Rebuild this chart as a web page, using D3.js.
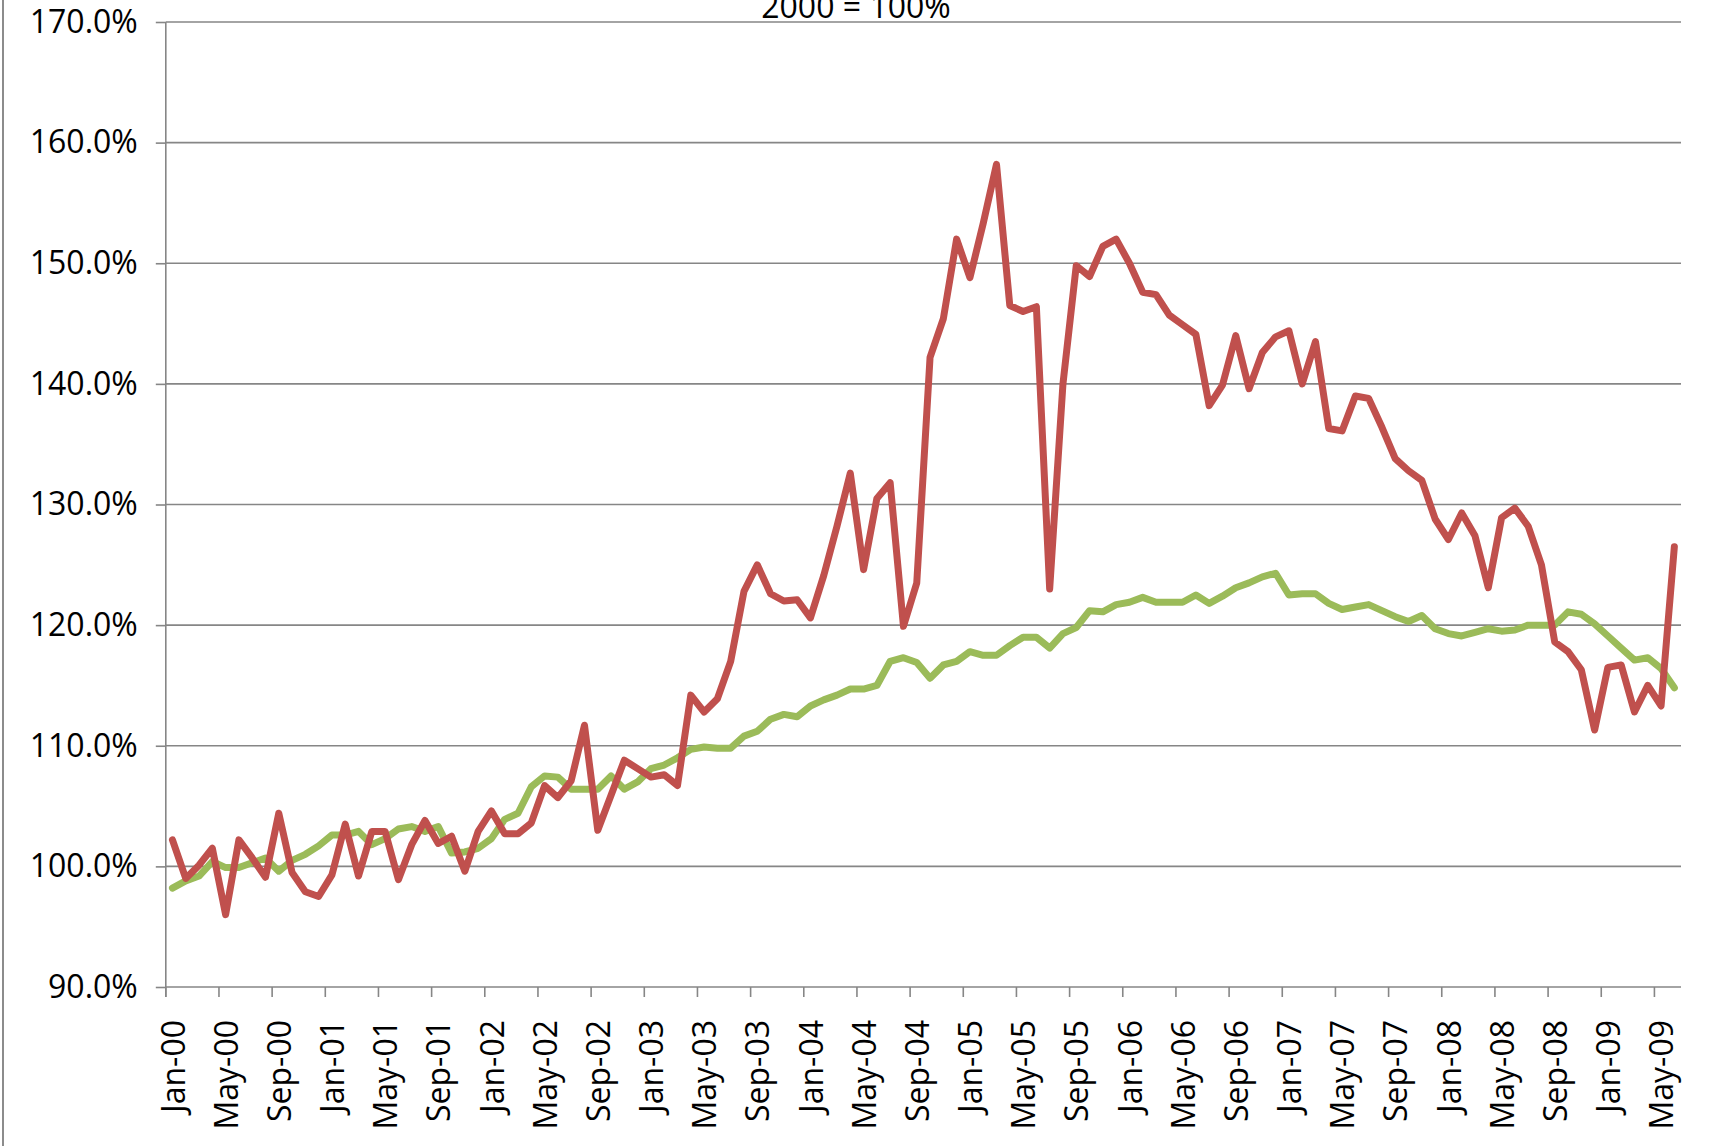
<!DOCTYPE html>
<html><head><meta charset="utf-8">
<script src="https://cdn.jsdelivr.net/npm/d3@7"></script>
<style>
html,body{margin:0;padding:0;background:#fff;}
svg{display:block;font-family:"Open Sans",sans-serif;}
</style>
</head><body>
<svg id="chart" width="1710" height="1146"></svg>
<script>
const titleText = "2000 = 100%";
const monthNames = ["Jan","Feb","Mar","Apr","May","Jun","Jul","Aug","Sep","Oct","Nov","Dec"];
const yearLabels = ["00","01","02","03","04","05","06","07","08","09"];
const yTicks = [90,100,110,120,130,140,150,160,170];

const redSeries = [
102.2,99.0,100.1,101.5,96.0,102.2,100.7,99.1,104.4,99.5,97.9,97.5,
99.3,103.5,99.2,102.9,102.9,98.9,101.8,103.8,101.9,102.5,99.6,102.9,
104.6,102.7,102.7,103.6,106.7,105.7,107.1,111.7,103.0,105.9,108.8,108.1,
107.4,107.6,106.7,114.2,112.8,113.9,117.0,122.8,125.0,122.6,122.0,122.1,
120.6,124.1,128.2,132.6,124.6,130.5,131.8,119.9,123.5,142.2,145.4,152.0,
148.8,153.3,158.2,146.5,146.0,146.4,123.0,140.0,149.8,148.9,151.4,152.0,
150.0,147.6,147.4,145.7,144.9,144.1,138.2,139.9,144.0,139.6,142.6,143.9,
144.4,140.0,143.5,136.3,136.1,139.0,138.8,136.4,133.8,132.8,132.0,128.8,
127.1,129.3,127.4,123.1,128.9,129.7,128.2,125.0,118.6,117.8,116.3,111.3,
116.5,116.7,112.8,115.0,113.3,126.5
];

const greenSeries = [
98.2,98.8,99.2,100.4,99.9,99.9,100.3,100.7,99.6,100.5,101.0,101.7,
102.6,102.6,102.9,101.8,102.3,103.1,103.3,102.9,103.3,101.1,101.2,101.5,
102.3,103.9,104.4,106.6,107.5,107.4,106.4,106.4,106.4,107.5,106.4,107.0,
108.1,108.4,109.0,109.7,109.9,109.8,109.8,110.8,111.2,112.2,112.6,112.4,
113.3,113.8,114.2,114.7,114.7,115.0,117.0,117.3,116.9,115.6,116.7,117.0,
117.8,117.5,117.5,118.3,119.0,119.0,118.1,119.3,119.8,121.2,121.1,121.7,
121.9,122.3,121.9,121.9,121.9,122.5,121.8,122.4,123.1,123.5,124.0,124.3,
122.5,122.6,122.6,121.8,121.3,121.5,121.7,121.2,120.7,120.3,120.8,119.7,
119.3,119.1,119.4,119.7,119.5,119.6,120.0,120.0,120.0,121.1,120.9,120.1,
119.1,118.1,117.1,117.3,116.4,114.8
];

const categories = [];
yearLabels.forEach(y => monthNames.forEach(m => categories.push(m + "-" + y)));
categories.length = redSeries.length;

const svg = d3.select("#chart");
const W = 1710, H = 1146;
const plot = {left: 165.8, right: 1681, top: 22, bottom: 987};
const gridColor = "#868686";
const fontSize = 32;

const x = d3.scaleBand().domain(categories).range([plot.left, plot.right]).paddingInner(0).paddingOuter(0);
const y = d3.scaleLinear().domain([90, 170]).range([plot.bottom, plot.top]);
const xc = d => x(d) + x.bandwidth() / 2;

// left chart border
svg.append("line").attr("x1", 3).attr("x2", 3).attr("y1", 0).attr("y2", H)
  .attr("stroke", "#8c8c8c").attr("stroke-width", 2);

// title
svg.append("text").attr("x", 856).attr("y", 18).attr("text-anchor", "middle")
  .attr("font-size", fontSize).attr("fill", "#000").text(titleText);

// y axis ticks + labels
const yAxis = d3.axisLeft(y).tickValues(yTicks).tickSize(10).tickPadding(18)
  .tickFormat(d => d.toFixed(1) + "%");
const gy = svg.append("g").attr("transform", `translate(${plot.left},0)`).call(yAxis);
gy.select(".domain").remove();
gy.selectAll(".tick line").attr("stroke", gridColor).attr("stroke-width", 1.6);
gy.selectAll(".tick text").attr("font-size", fontSize).attr("fill", "#000")
  .attr("font-family", "Open Sans, sans-serif");

// horizontal gridlines
svg.append("g").selectAll("line").data(yTicks).join("line")
  .attr("x1", plot.left).attr("x2", plot.right)
  .attr("y1", d => y(d)).attr("y2", d => y(d))
  .attr("stroke", gridColor).attr("stroke-width", 1.6);

// y axis line
svg.append("line").attr("x1", plot.left).attr("x2", plot.left)
  .attr("y1", plot.top).attr("y2", plot.bottom + 10)
  .attr("stroke", gridColor).attr("stroke-width", 1.6);

// x axis ticks at category boundaries every 4 months
const tickCats = categories.filter((c, i) => i % 4 === 0);
svg.append("g").selectAll("line").data(tickCats).join("line")
  .attr("x1", d => x(d)).attr("x2", d => x(d))
  .attr("y1", plot.bottom).attr("y2", plot.bottom + 10)
  .attr("stroke", gridColor).attr("stroke-width", 1.6);

// x labels
svg.append("g").selectAll("text").data(tickCats).join("text")
  .attr("transform", d => `translate(${xc(d) + 1},${1020}) rotate(-90)`)
  .attr("text-anchor", "end").attr("dy", "0.35em")
  .attr("font-size", fontSize).attr("fill", "#000").text(d => d);

// lines
const line = d3.line().x((d, i) => xc(categories[i])).y(d => y(d));
svg.append("path").datum(greenSeries).attr("d", line)
  .attr("fill", "none").attr("stroke", "#9BBB59").attr("stroke-width", 7)
  .attr("stroke-linejoin", "round").attr("stroke-linecap", "round");
svg.append("path").datum(redSeries).attr("d", line)
  .attr("fill", "none").attr("stroke", "#C0504D").attr("stroke-width", 7)
  .attr("stroke-linejoin", "round").attr("stroke-linecap", "round");
</script>
</body></html>
